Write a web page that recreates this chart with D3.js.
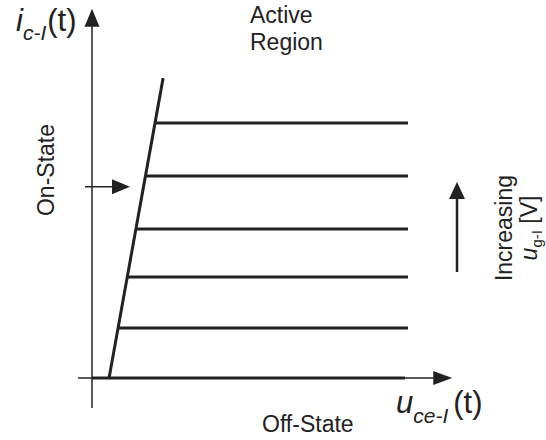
<!DOCTYPE html>
<html>
<head>
<meta charset="utf-8">
<script src="https://cdn.jsdelivr.net/npm/d3@7"></script>
<style>
  body { margin: 0; background: #fff; }
  text { font-family: "Liberation Sans", Arial, sans-serif; fill: #222; }
</style>
</head>
<body>
<svg></svg>
<script>
// collector current levels for each gate voltage step
var iLevels = [0.98, 1.98, 2.92, 3.96, 5.0];
// end of the flat part of each curve (u_ce)
var uEnd = 10;
// boundary line between on-state and active region: [u, i]
var boundary = [[0.54, 0], [2.25, 5.88]];
// axis extents [min, max]
var uAxis = [-0.44, 11.4];
var iAxis = [-0.59, 7.24];
var onStateLevel = 3.75;

function main() {
  var width = 546;
  var height = 440;
  var ink = "#222";

  var svg = d3.select("svg")
    .attr("width", width)
    .attr("height", height);

  var x = d3.scaleLinear().domain([0, 10]).range([92, 408]);
  var y = d3.scaleLinear().domain([0, 6]).range([378, 72]);

  function arrowHead(tx, ty, dir, len, half) {
    // dir: "up" or "right"
    var pts = dir === "up"
      ? [[tx, ty], [tx - half, ty + len], [tx + half, ty + len]]
      : [[tx, ty], [tx - len, ty - half], [tx - len, ty + half]];
    svg.append("path")
      .attr("d", "M" + pts.join("L") + "Z")
      .attr("fill", ink);
  }

  // y axis
  svg.append("line")
    .attr("x1", x(0)).attr("x2", x(0))
    .attr("y1", y(iAxis[0])).attr("y2", y(iAxis[1]) + 10)
    .attr("stroke", ink).attr("stroke-width", 1.5);
  arrowHead(x(0), y(iAxis[1]), "up", 18, 7.5);

  // x axis: thin full line + thick part
  svg.append("line")
    .attr("x1", x(uAxis[0])).attr("x2", x(uAxis[1]) - 10)
    .attr("y1", y(0)).attr("y2", y(0))
    .attr("stroke", ink).attr("stroke-width", 1.5);
  svg.append("line")
    .attr("x1", x(0)).attr("x2", x(uEnd) - 3)
    .attr("y1", y(0)).attr("y2", y(0))
    .attr("stroke", ink).attr("stroke-width", 3);
  arrowHead(x(uAxis[1]), y(0), "right", 19, 7);

  // boundary line
  svg.append("line")
    .attr("x1", x(boundary[0][0])).attr("y1", y(boundary[0][1]))
    .attr("x2", x(boundary[1][0])).attr("y2", y(boundary[1][1]))
    .attr("stroke", ink).attr("stroke-width", 3);

  function boundaryU(i) {
    var t = (i - boundary[0][1]) / (boundary[1][1] - boundary[0][1]);
    return boundary[0][0] + t * (boundary[1][0] - boundary[0][0]);
  }

  // output characteristic curves
  svg.selectAll(".curve")
    .data(iLevels)
    .enter()
    .append("line")
    .attr("class", "curve")
    .attr("x1", function(d) { return x(boundaryU(d)); })
    .attr("x2", x(uEnd))
    .attr("y1", function(d) { return y(d); })
    .attr("y2", function(d) { return y(d); })
    .attr("stroke", ink).attr("stroke-width", 3);

  // on-state arrow
  var ay = y(onStateLevel);
  svg.append("line")
    .attr("x1", 85).attr("x2", 116)
    .attr("y1", ay).attr("y2", ay)
    .attr("stroke", ink).attr("stroke-width", 1.5);
  arrowHead(130, ay, "right", 18, 7.5);

  // increasing arrow
  svg.append("line")
    .attr("x1", 457).attr("x2", 457)
    .attr("y1", 272).attr("y2", 195)
    .attr("stroke", ink).attr("stroke-width", 2.5);
  arrowHead(457, 182, "up", 17, 8);

  // labels
  var iLab = svg.append("text").attr("x", 16).attr("y", 31).style("font-size", "31px");
  iLab.append("tspan").style("font-style", "italic").text("i");
  iLab.append("tspan").attr("dy", 9).style("font-style", "italic").style("font-size", "21px").text("c-I");
  iLab.append("tspan").attr("dy", -9).attr("dx", 1).text("(t)");

  var uLab = svg.append("text").attr("x", 396).attr("y", 413).style("font-size", "31px");
  uLab.append("tspan").style("font-style", "italic").text("u");
  uLab.append("tspan").attr("dy", 10).style("font-style", "italic").style("font-size", "21px").text("ce-I");
  uLab.append("tspan").attr("dy", -10).attr("dx", 5).text("(t)");

  svg.append("text").attr("x", 250).attr("y", 23).style("font-size", "23px").text("Active");
  svg.append("text").attr("x", 250).attr("y", 50).style("font-size", "23px").text("Region");

  svg.append("text").attr("x", 262).attr("y", 432).style("font-size", "23px").text("Off-State");

  svg.append("text")
    .attr("transform", "translate(54,170) rotate(-90)")
    .attr("text-anchor", "middle")
    .style("font-size", "23px")
    .text("On-State");

  svg.append("text")
    .attr("transform", "translate(512,228) rotate(-90)")
    .attr("text-anchor", "middle")
    .style("font-size", "23px")
    .text("Increasing");

  var gLab = svg.append("text")
    .attr("transform", "translate(537,228) rotate(-90)")
    .attr("text-anchor", "middle")
    .style("font-size", "23px");
  gLab.append("tspan").style("font-style", "italic").text("u");
  gLab.append("tspan").attr("dy", 5).style("font-size", "15px").text("g-I");
  gLab.append("tspan").attr("dy", -5).text(" [V]");
}

main();
</script>
</body>
</html>
